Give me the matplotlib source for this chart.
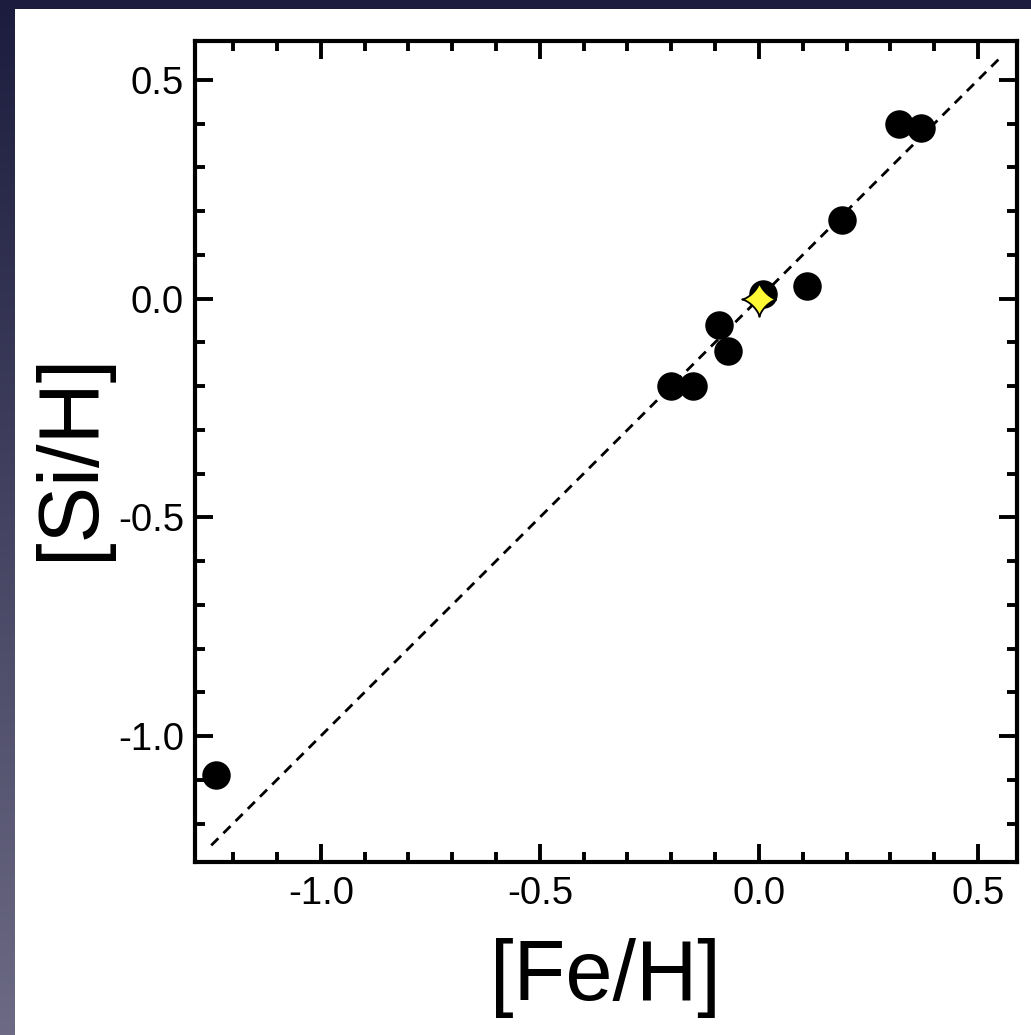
import numpy as np
import matplotlib
matplotlib.use('Agg')
import matplotlib.pyplot as plt
from matplotlib.path import Path
from matplotlib.ticker import MultipleLocator, FormatStrFormatter
from matplotlib.patches import Rectangle
from matplotlib.colors import LinearSegmentedColormap

# ---- data ----
fe_h = [-1.24, -0.20, -0.15, -0.09, -0.07, 0.01, 0.11, 0.19, 0.32, 0.37]
si_h = [-1.09, -0.20, -0.20, -0.06, -0.12, 0.01, 0.03, 0.18, 0.40, 0.39]
sun_fe = [0.0]
sun_si = [0.0]
one_to_one = [-1.25, 0.55]
xticks_major = [-1.0, -0.5, 0.0, 0.5]
yticks_major = [-1.0, -0.5, 0.0, 0.5]

plt.rcParams['font.family'] = ['Liberation Sans', 'DejaVu Sans']

W, H = 1031, 1035
fig = plt.figure(figsize=(W / 100, H / 100), dpi=100)

# background gradient + white panel
bg = fig.add_axes([0, 0, 1, 1], zorder=-10)
bg.set_axis_off()
grad = np.linspace(0, 1, 256).reshape(-1, 1)
cmap = LinearSegmentedColormap.from_list('bg', ['#1c1c3e', '#6c6a84'])
bg.imshow(grad, aspect='auto', cmap=cmap, extent=[0, 1, 0, 1], origin='upper')
bg.set_xlim(0, 1)
bg.set_ylim(0, 1)
bg.add_patch(Rectangle((15 / W, 0), 1, 1 - 9 / H, facecolor='white', edgecolor='none'))

ax = fig.add_axes([195 / W, 1 - 862 / H, (1017 - 195) / W, (862 - 41) / H])
ax.set_facecolor('white')

ax.plot(one_to_one, one_to_one, color='black', lw=2.0, dashes=(3.6, 2.6), zorder=2)
ax.plot(fe_h, si_h, 'o', color='black', ms=19.5, mec='black', zorder=3)

t = np.linspace(0, 2 * np.pi, 400)
c, s = np.cos(t), np.sin(t)
star_verts = np.c_[np.sign(c) * np.abs(c) ** 2.8, np.sign(s) * np.abs(s) ** 2.8]
star = Path(star_verts)
ax.plot(sun_fe, sun_si, marker=star, color='#fff835', ms=25, mec='black', mew=1.3,
        ls='none', zorder=4)

ax.set_xlim(-1.287, 0.589)
ax.set_ylim(-1.288, 0.589)
ax.xaxis.set_minor_locator(MultipleLocator(0.1))
ax.yaxis.set_minor_locator(MultipleLocator(0.1))
ax.set_xticks(xticks_major)
ax.set_yticks(yticks_major)
ax.xaxis.set_major_formatter(FormatStrFormatter('%.1f'))
ax.yaxis.set_major_formatter(FormatStrFormatter('%.1f'))

ax.tick_params(which='both', direction='in', top=True, right=True, width=2.8, colors='black')
ax.tick_params(which='major', length=13, labelsize=27.5)
ax.tick_params(which='minor', length=7.5)
ax.tick_params(axis='x', which='major', pad=10)
ax.tick_params(axis='y', which='major', pad=8)
for sp in ax.spines.values():
    sp.set_linewidth(3.0)

fig.text(605 / W, 1 - 1000 / H, '[Fe/H]', fontsize=61, ha='center', va='baseline')
fig.text(93 / W, 1 - 456 / H, '[Si/H]', fontsize=61, rotation=90, rotation_mode='anchor',
         ha='center', va='baseline')

fig.savefig('out.png', dpi=100)
